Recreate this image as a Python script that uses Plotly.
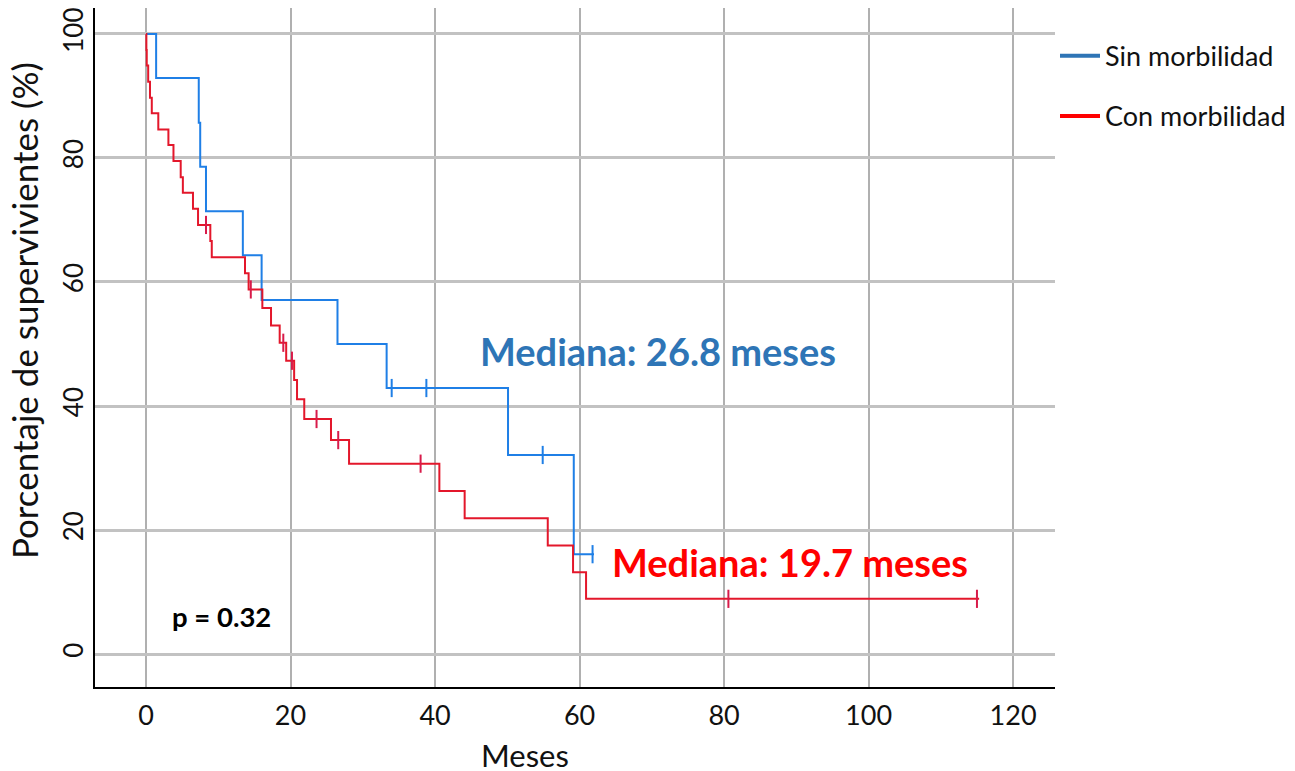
import plotly.graph_objects as go

# ---- Data ----
sin_times = [0, 1.4, 7.3, 7.5, 8.3, 13.4, 16.0, 26.5, 33.3, 50.1, 59.2, 62.0]
sin_surv = [100, 92.9, 85.7, 78.6, 71.4, 64.3, 57.1, 50.0, 42.9, 32.1, 16.1, 16.1]
sin_cens_t = [34.0, 38.8, 54.9, 61.8]
sin_cens_s = [42.9, 42.9, 32.1, 16.1]

con_times = [0, 0.05, 0.1, 0.3, 0.55, 0.8, 1.7, 3.1, 3.8, 4.8, 5.1, 6.5, 7.2, 8.9, 9.1,
             13.7, 14.2, 16.1, 17.3, 18.5, 19.4, 20.5, 20.9, 21.9, 25.6, 28.1, 40.6,
             44.1, 55.6, 59.1, 60.9, 115.3]
con_surv = [100, 97.4, 94.9, 92.3, 89.7, 87.2, 84.6, 82.1, 79.5, 76.9, 74.4, 71.8, 69.2,
            66.6, 64.0, 61.4, 58.8, 55.8, 53.0, 50.2, 47.3, 44.2, 41.1, 37.9, 34.5, 30.7,
            26.3, 21.9, 17.5, 13.2, 8.9, 8.9]
con_cens_t = [8.3, 14.5, 19.0, 20.2, 23.6, 26.6, 38.0, 80.6, 115.0]
con_cens_s = [69.2, 58.8, 50.2, 47.3, 37.9, 34.5, 30.7, 8.9, 8.9]

x_ticks = [0, 20, 40, 60, 80, 100, 120]
y_ticks = [0, 20, 40, 60, 80, 100]

series_names = ["Sin morbilidad", "Con morbilidad"]
median_labels = ["Mediana: 26.8 meses", "Mediana: 19.7 meses"]
p_label = "p = 0.32"
x_title = "Meses"
y_title = "Porcentaje de supervivientes (%)"

BLUE_LINE = "#1f7fe6"
RED_LINE = "#e3172b"
BLUE_TXT = "#2e75b6"
RED_TXT = "#ff0000"
FONT = "Lato"

fig = go.Figure()

fig.add_trace(go.Scatter(x=sin_times, y=sin_surv, mode="lines", line_shape="hv",
                         line=dict(color=BLUE_LINE, width=2), showlegend=False,
                         hoverinfo="skip"))
fig.add_trace(go.Scatter(x=con_times, y=con_surv, mode="lines", line_shape="hv",
                         line=dict(color=RED_LINE, width=2), showlegend=False,
                         hoverinfo="skip"))
fig.add_trace(go.Scatter(x=sin_cens_t, y=sin_cens_s, mode="markers",
                         marker=dict(symbol="line-ns", size=13,
                                     line=dict(color=BLUE_LINE, width=2)),
                         showlegend=False))
fig.add_trace(go.Scatter(x=con_cens_t, y=con_cens_s, mode="markers",
                         marker=dict(symbol="line-ns", size=13,
                                     line=dict(color="#d81b4a", width=2)),
                         showlegend=False))

# legend entries
fig.add_trace(go.Scatter(x=[None], y=[None], mode="lines", name=series_names[0],
                         line=dict(color=BLUE_TXT, width=4), legendgroup="a"))
fig.add_trace(go.Scatter(x=[None], y=[None], mode="lines", name=series_names[1],
                         line=dict(color=RED_TXT, width=4), legendgroup="b"))

fig.add_annotation(x=70.9, y=48.9, text="<b>" + median_labels[0] + "</b>", showarrow=False,
                   font=dict(family=FONT, size=38, color=BLUE_TXT))
fig.add_annotation(x=89.1, y=14.9, text="<b>" + median_labels[1] + "</b>", showarrow=False,
                   font=dict(family=FONT, size=38, color=RED_TXT))
fig.add_annotation(x=10.45, y=6.0, text="<b>" + p_label + "</b>", showarrow=False,
                   font=dict(family=FONT, size=27.5, color="black"))

# axis titles (placed as in the reference, off-centre)
fig.add_annotation(xref="paper", yref="paper", x=0.448, y=-0.1, text=x_title,
                   xanchor="center", yanchor="middle",
                   showarrow=False, font=dict(family=FONT, size=31, color="#111"))
fig.add_annotation(xref="paper", yref="paper", x=-0.074, y=0.555, text=y_title,
                   xanchor="center", yanchor="middle",
                   textangle=-90, showarrow=False,
                   font=dict(family=FONT, size=35, color="#111"))

fig.update_layout(
    width=1295, height=771,
    margin=dict(l=87, r=248, t=0, b=92),
    paper_bgcolor="white", plot_bgcolor="white",
    legend=dict(x=1.0, xanchor="left", y=0.965, yanchor="top",
                font=dict(family=FONT, size=27, color="#111"),
                itemwidth=40,
                tracegroupgap=22, bgcolor="rgba(0,0,0,0)"),
    xaxis=dict(range=[-7.06, 125.8], tickvals=x_ticks, ticktext=[str(v) for v in x_ticks],
               showgrid=True, gridcolor="#b0b0b0", gridwidth=2, zeroline=False,
               showline=True, linecolor="black", linewidth=2, ticks="",
               tickfont=dict(family=FONT, size=27, color="#111"),
               ticklabelstandoff=4, automargin=False),
    yaxis=dict(range=[-5.32, 104.19], tickvals=y_ticks, ticktext=[str(v) for v in y_ticks],
               showgrid=True, gridcolor="#c2c2c2", gridwidth=2.5, zeroline=False,
               showline=True, linecolor="black", linewidth=2, ticks="",
               tickangle=-90, ticklabelstandoff=0, ticklabeloverflow="allow",
               tickfont=dict(family=FONT, size=26, color="#111"),
               automargin=False),
)

fig.write_html("out.html")
